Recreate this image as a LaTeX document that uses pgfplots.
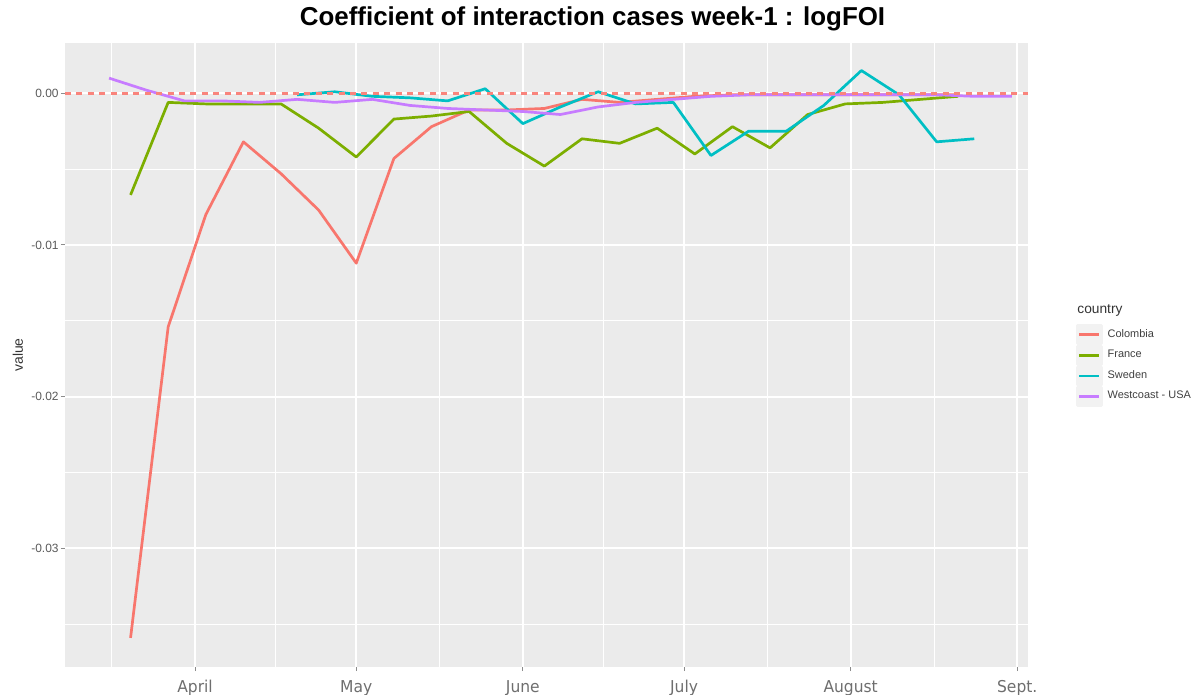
\documentclass[border=0pt]{standalone}
\usepackage{pgfplots}
\pgfplotsset{compat=1.18}
\usepackage{fontspec}
\setmainfont{Liberation Sans}
\newfontfamily\xfont[FakeStretch=0.95]{DejaVu Sans}
\definecolor{cCol}{HTML}{F8766D}
\definecolor{cFra}{HTML}{7CAE00}
\definecolor{cSwe}{HTML}{00BFC4}
\definecolor{cWes}{HTML}{C77CFF}
\definecolor{panel}{HTML}{EBEBEB}
\definecolor{keybg}{HTML}{F2F2F2}
\definecolor{ticklab}{HTML}{5A5A5A}
\definecolor{xlab}{HTML}{6E6E6E}
% x = days since 1 April
\pgfplotstableread{
d v
-12 -0.0359
-5 -0.0154
2 -0.0080
9 -0.0032
16 -0.0053
23 -0.0077
30 -0.0112
37 -0.0043
44 -0.0022
51 -0.0011
58 -0.0011
65 -0.0010
72 -0.0004
79 -0.0006
86 -0.0004
93 -0.0002
100 -0.0001
107 -0.0001
114 -0.0001
121 -0.0001
128 -0.0001
135 -0.0001
142 -0.0001
}\colombia
\pgfplotstableread{
d v
-12 -0.0067
-5 -0.0006
2 -0.0007
9 -0.0007
16 -0.0007
23 -0.0023
30 -0.0042
37 -0.0017
44 -0.0015
51 -0.0012
58 -0.0033
65 -0.0048
72 -0.0030
79 -0.0033
86 -0.0023
93 -0.0040
100 -0.0022
107 -0.0036
114 -0.0014
121 -0.0007
128 -0.0006
135 -0.0004
142 -0.0002
}\france
\pgfplotstableread{
d v
19 -0.0001
26 0.0001
33 -0.0002
40 -0.0003
47 -0.0005
54 0.0003
61 -0.0020
68 -0.0009
75 0.0001
82 -0.0007
89 -0.0006
96 -0.0041
103 -0.0025
110 -0.0025
117 -0.0008
124 0.0015
131 -0.0001
138 -0.0032
145 -0.0030
}\sweden
\pgfplotstableread{
d v
-16 0.0010
-9 0.0002
-2 -0.0005
5 -0.0005
12 -0.0006
19 -0.0004
26 -0.0006
33 -0.0004
40 -0.0008
47 -0.0010
54 -0.0011
61 -0.0012
68 -0.0014
75 -0.0009
82 -0.0006
89 -0.0004
96 -0.0002
103 -0.0001
110 -0.0001
117 -0.0001
124 -0.0001
131 -0.0001
138 -0.0001
145 -0.0002
152 -0.0002
}\westcoast
\begin{document}
\begin{tikzpicture}
\useasboundingbox (0,0) rectangle (596.5bp,347.5bp);
\begin{axis}[
  at={(32.5bp,14bp)}, anchor=south west,
  scale only axis, width=481.5bp, height=312bp,
  xmin=-24.2, xmax=155.0, ymin=-0.03782, ymax=0.003316,
  scaled y ticks=false,
  axis background/.style={fill=panel},
  axis line style={draw=none},
  xtick={0,30,61,91,122,153},
  xticklabels={April,May,June,July,August,Sept.},
  minor xtick={-15.5,15,45.5,76,106.5,137.5},
  ytick={-0.03,-0.02,-0.01,0},
  yticklabels={-0.03,-0.02,-0.01,0.00},
  minor ytick={-0.035,-0.025,-0.015,-0.005},
  xtick pos=bottom, ytick pos=left,
  tick align=outside,
  major tick length=2bp, minor tick length=0pt,
  major tick style={draw=black!45, line width=0.5bp},
  grid=both,
  major grid style={white, line width=0.9bp},
  minor grid style={white, line width=0.45bp},
  xticklabel style={font=\xfont\fontsize{8.2}{9}\selectfont, text=xlab, anchor=base, yshift=-11bp},
  yticklabel style={font=\fontsize{6}{7}\selectfont, text=ticklab, inner sep=1bp},
  every axis title shift=0pt,
  title={Coefficient of interaction cases week-1 : logFOI},
  title style={at={(axis description cs:0.5478,1.0385)}, anchor=center, font=\bfseries\fontsize{13}{15}\selectfont},
  ylabel={value},
  ylabel style={at={(axis description cs:-0.0488,0.5)}, anchor=center, font=\fontsize{7}{8}\selectfont, text=black!80},
  legend style={at={(axis description cs:1.0498,0.5489)}, anchor=north west, draw=none, fill=none,
    inner sep=0pt, outer sep=0pt, row sep=0pt, font=\fontsize{5.5}{6.5}\selectfont, text=black!75,
    nodes={inner sep=0pt, anchor=west},
    /tikz/every odd column/.append style={column sep=2.5bp}},
  legend cell align=left,
  legend image code/.code={\fill[keybg] (0bp,-4.47bp) rectangle (12bp,4.47bp); \draw[#1] (1bp,0bp) -- (11bp,0bp);},
  every axis plot/.append style={line width=1.35bp, line join=round},
]
\addplot[color=cCol] table[x=d,y=v] {\colombia};
\addlegendentry{Colombia}
\addplot[color=cFra] table[x=d,y=v] {\france};
\addlegendentry{France}
\addplot[color=cSwe] table[x=d,y=v] {\sweden};
\addlegendentry{Sweden}
\addplot[color=cWes] table[x=d,y=v] {\westcoast};
\addlegendentry{Westcoast - USA}
\addplot[color=cCol!90!white, line width=1.4bp, dash pattern=on 3bp off 2.7bp, forget plot] coordinates {(-24.2,0) (155,0)};
\end{axis}
\node[anchor=west, font=\fontsize{6.9}{8}\selectfont, text=black!80, inner sep=0pt] at (538.5bp,192.5bp) {country};
\end{tikzpicture}
\end{document}
